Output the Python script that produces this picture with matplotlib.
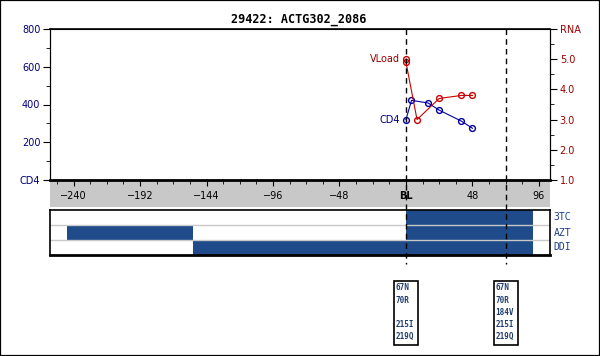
import matplotlib.pyplot as plt
from matplotlib.patches import Rectangle
from matplotlib.lines import Line2D
from matplotlib.ticker import MultipleLocator
from matplotlib.transforms import blended_transform_factory

W, H = 600, 356

# chart data
title = '29422: ACTG302_2086'
cd4_weeks = [0, 4, 16, 24, 40, 48]
cd4_vals = [320, 422, 408, 370, 312, 274]
rna_weeks = [0, 0, 8, 24, 40, 48]
rna_vals = [5.0, 4.9, 3.0, 3.7, 3.8, 3.8]

drug_names = ['3TC', 'AZT', 'DDI']
bar_drug = ['3TC', 'AZT', 'AZT', 'DDI']
bar_start = [0, -245, 0, -154]
bar_end = [92, -154, 92, 92]

geno_weeks = [0, 72]
geno_muts = [['67N', '70R', '', '215I', '219Q'],
             ['67N', '70R', '184V', '215I', '219Q']]

x_ticks = [-240, -192, -144, -96, -48, 0, 48, 96]
x_labels = ['\u2212240', '\u2212192', '\u2212144', '\u221296', '\u221248', 'BL', '48', '96']
cd4_ticks = [0, 200, 400, 600, 800]
cd4_labels = ['CD4', '200', '400', '600', '800']
rna_ticks = [1, 2, 3, 4, 5, 6]
rna_labels = ['1.0', '2.0', '3.0', '4.0', '5.0', 'RNA']

blue = '#0000a0'
red = '#cc0000'
navy = '#000080'
maroon = '#990000'
bar_col = '#1f4b8a'
mono = 'DejaVu Sans Mono'


def frac(l, t, r, b):
    # pixel box -> figure fraction
    return [l / W, 1 - b / H, (r - l) / W, (b - t) / H]


fig = plt.figure(figsize=(6, 3.56), dpi=100)
fig.patch.set_facecolor('white')

# gray band behind the x tick labels
band = fig.add_axes(frac(50, 180, 550, 207))
band.set_facecolor('#c8c8c8')
band.set_xticks([])
band.set_yticks([])
for s in band.spines.values():
    s.set_visible(False)

ax = fig.add_axes(frac(50, 29, 550, 180))
ax.set_facecolor('none')
ax.set_xlim(-257, 104)
ax.set_ylim(0, 800)
ax.set_xticks(x_ticks)
ax.set_xticklabels(x_labels)
ax.xaxis.set_minor_locator(MultipleLocator(12))
ax.tick_params(axis='x', which='major', direction='out', length=4, labelsize=7, pad=4)
ax.tick_params(axis='x', which='minor', direction='out', length=3)
ax.get_xticklabels()[5].set_fontweight('bold')
ax.set_yticks(cd4_ticks)
ax.set_yticklabels(cd4_labels)
ax.yaxis.set_minor_locator(MultipleLocator(100))
ax.tick_params(axis='y', which='major', length=5, labelsize=7, labelcolor=navy, pad=2)
ax.tick_params(axis='y', which='minor', length=3)
ax.spines['bottom'].set_linewidth(2)
ax.spines['top'].set_linewidth(1.2)

ax2 = ax.twinx()
ax2.set_ylim(1, 6)
ax2.set_yticks(rna_ticks)
ax2.set_yticklabels(rna_labels)
ax2.yaxis.set_minor_locator(MultipleLocator(0.5))
ax2.tick_params(axis='y', which='major', length=5, labelsize=7, labelcolor=maroon, pad=2)
ax2.tick_params(axis='y', which='minor', length=3)

ax.plot(cd4_weeks, cd4_vals, color=blue, lw=0.8, marker='o', ms=4.2,
        mfc='none', mew=1, clip_on=False)
ax2.plot(rna_weeks, rna_vals, color=red, lw=0.8, marker='o', ms=4.2,
         mfc='none', mew=1, clip_on=False)
ax.text(-4, cd4_vals[0], 'CD4', ha='right', va='center', fontsize=7, color=navy)
ax2.text(-4, rna_vals[0], 'VLoad', ha='right', va='center', fontsize=7, color=maroon)

# treatment bars
bx = fig.add_axes(frac(50, 210, 550, 255))
bx.set_xlim(-257, 104)
bx.set_ylim(3, 0)
rows = [drug_names.index(d) + 0.5 for d in bar_drug]
widths = [e - s for s, e in zip(bar_start, bar_end)]
bx.barh(rows, widths, left=bar_start, height=1.0, color=bar_col)
for yy in [1, 2]:
    bx.axhline(yy, color='#c8c8c8', lw=1)
bx.set_xticks([])
bx.set_yticks([])
for s in bx.spines.values():
    s.set_linewidth(1.2)
bx.spines['bottom'].set_linewidth(2)
for i, d in enumerate(drug_names):
    bx.text(1.007, 1 - (i + 0.5) / 3, d, transform=bx.transAxes, ha='left',
            va='center', fontsize=7, family=mono, color='#1f3c88')

# visit lines and genotype boxes
trans = blended_transform_factory(ax.transData, fig.transFigure)
for w, muts in zip(geno_weeks, geno_muts):
    fig.add_artist(Line2D([w, w], [1 - 29 / H, 1 - 264 / H], transform=trans,
                          color='black', lw=1, ls=(0, (4, 3))))
    fig.add_artist(Rectangle((w - 8.3, 1 - 345 / H), 17.3, 64 / H, transform=trans,
                             fill=False, ec='black', lw=1.2))
    for j, m in enumerate(muts):
        fig.text(w - 7.3, 1 - (288 + 12.2 * j) / H, m, transform=trans,
                 ha='left', va='center', fontsize=5.5, family=mono,
                 fontweight='bold', color='#1f3c6e')

fig.text(0.497, 1 - 20 / H, title, ha='center', va='center', family=mono,
         fontweight='bold', fontsize=8.5)

# outer frame
fig.add_artist(Rectangle((0, 0), 1, 1, transform=fig.transFigure, fill=False,
                         ec='black', lw=1.6))

fig.savefig('out.png', dpi=100)
